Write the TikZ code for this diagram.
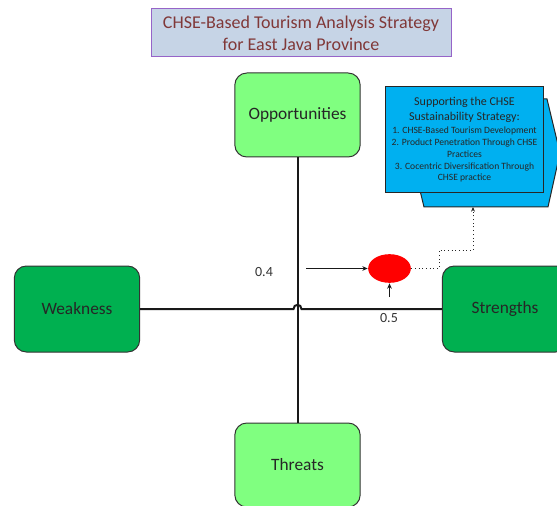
\documentclass[tikz,border=0pt]{standalone}
\usepackage{fontspec}
\setmainfont{Carlito}
\usetikzlibrary{arrows.meta,shapes.geometric}

\definecolor{titlefill}{RGB}{198,212,230}
\definecolor{titleline}{RGB}{150,100,200}
\definecolor{titletext}{RGB}{128,56,56}
\definecolor{lightgr}{RGB}{128,255,128}
\definecolor{darkgr}{RGB}{0,176,80}
\definecolor{stratblue}{RGB}{0,176,240}

\newcommand{\hdfont}{\fontsize{9}{11}\selectfont}
\newcommand{\itfont}{\fontsize{7.2}{8.8}\selectfont}

\tikzset{every picture/.style={line width=0.75pt}}
\tikzset{
  swotbox/.style={draw=black!80, rounded corners=9pt, minimum width=94pt, minimum height=63pt, inner sep=0pt, text=black!85, font=\fontsize{13}{15}\selectfont},
  lightbox/.style={swotbox, fill=lightgr},
  darkbox/.style={swotbox, fill=darkgr, minimum height=64.5pt},
  axis/.style={line width=1.5pt, black!90},
  weight/.style={font=\fontsize{10.5}{12}\selectfont, text=black!80, inner sep=0.75pt},
  feed/.style={-{Stealth[length=4pt,width=3.5pt]}, black!90},
  dotline/.style={dotted, black!85, -{Stealth[length=3.5pt,width=3pt]}}
}

\begin{document}
\begin{tikzpicture}[x=0.75pt,y=0.75pt,yscale=-1,xscale=1]
\clip (0,0) rectangle (557,506);

% Title
\node [draw=titleline, fill=titlefill, minimum width=225pt, minimum height=36pt, align=center, text=titletext, font=\fontsize{13.5}{16.5}\selectfont, inner sep=0pt] (title) at (301,33) {CHSE-Based Tourism Analysis Strategy\\for East Java Province};

% SWOT boxes
\node [lightbox] (opp) at (297.5,115) {Opportunities};
\node [lightbox] (thr) at (297.5,465) {Threats};
\node [darkbox] (wk) at (77,309) {Weakness};
\node [darkbox] (str) at (505,309) {Strengths};

% axes
\draw [axis] (opp.south) -- (thr.north);
\coordinate (hopL) at ([xshift=-3pt]opp.south |- wk.east);
\coordinate (hopR) at ([xshift=3pt]opp.south |- wk.east);
\draw [axis] (wk.east) -- (hopL) .. controls +(0,-5.5) and +(0,-5.5) .. (hopR) -- (str.west);

% strategy card (back shape + front box)
\draw [fill=stratblue, draw=black!85] (411,153) -- (424,99) -- (547,99) -- (560,153) -- (548,207) -- (424,207) -- cycle;
\coordinate (tap) at (473,207);
\node [draw=black!85, fill=stratblue, minimum width=119pt, minimum height=79.5pt, inner sep=0pt, align=center, text=black!85, font=\itfont] (strat) at (464.5,140) {\hdfont Supporting the CHSE\\[2.4pt]\hdfont Sustainability Strategy:\\[0.9pt]\itfont 1. CHSE-Based Tourism Development\\\itfont 2. Product Penetration Through CHSE\\\itfont Practices\\\itfont 3. Cocentric Diversification Through\\\itfont CHSE practice};

% intersection point
\node [ellipse, fill=red, minimum width=32pt, minimum height=21.5pt, inner sep=0pt] (pt) at (389.5,268.5) {};
\coordinate (inW) at (306,268.5);
\coordinate (inS) at (389.5,297);
\draw [feed] (inW) -- (pt.west);
\draw [feed] (inS) -- (pt.south);
\draw [dotline] (pt.east) -| (439,250) -| (tap);

% weights
\node [weight] (wx) at (264,272) {0.4};
\node [weight] (wy) at (389,318) {0.5};
\end{tikzpicture}
\end{document}
